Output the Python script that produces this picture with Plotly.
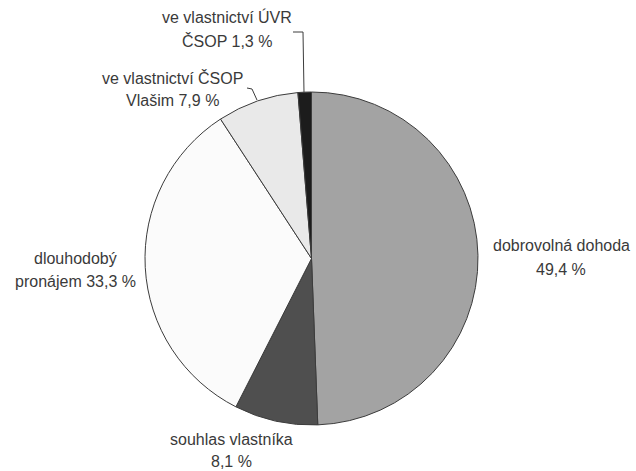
import plotly.graph_objects as go

W, H = 636, 471

# ---- data ----
categories = ["dobrovolná dohoda", "souhlas vlastníka", "dlouhodobý pronájem",
              "ve vlastnictví ČSOP Vlašim", "ve vlastnictví ÚVR ČSOP"]
values = [49.4, 8.1, 33.3, 7.9, 1.3]
label_lines = [
    ["dobrovolná dohoda", "49,4 %"],
    ["souhlas vlastníka", "8,1 %"],
    ["dlouhodobý", "pronájem 33,3 %"],
    ["ve vlastnictví ČSOP", "Vlašim 7,9 %"],
    ["ve vlastnictví ÚVR", "ČSOP 1,3 %"],
]

# ---- styles / layout positions (pixels) ----
colors = ["#a3a3a3", "#4f4f4f", "#fbfbfb", "#e9e9e9", "#1c1c1c"]
label_pos = [  # (x, y of first line, line gap)
    (561, 245, 24),
    (232, 439, 22),
    (75, 258, 23),
    (172, 78, 23),
    (227, 17, 24),
]
pie_box = (145, 92, 478, 425)  # left, top, right, bottom in px


def px(x):
    return x / W


def py(y):
    return 1 - y / H


fig = go.Figure(go.Pie(
    labels=categories,
    values=values,
    sort=False,
    direction="clockwise",
    rotation=0,
    marker=dict(colors=colors, line=dict(color="#3c3c3c", width=1)),
    textinfo="none",
    hoverinfo="label+percent",
    domain=dict(x=[px(pie_box[0]), px(pie_box[2])],
                y=[py(pie_box[3]), py(pie_box[1])]),
))

annotations = []
for lines, (x, y, gap) in zip(label_lines, label_pos):
    for i, t in enumerate(lines):
        annotations.append(dict(
            x=px(x), y=py(y + i * gap), xref="paper", yref="paper",
            text=t, showarrow=False, xanchor="center", yanchor="middle",
            font=dict(family="Liberation Sans, Arial, sans-serif", size=16, color="#3a3a3a"),
        ))

shapes = [
    # leader for ČSOP Vlašim
    dict(type="path", xref="paper", yref="paper",
         path=f"M {px(247)} {py(88)} L {px(252)} {py(89)} L {px(257)} {py(100)}",
         line=dict(color="#3c3c3c", width=1)),
    # leader for ÚVR
    dict(type="path", xref="paper", yref="paper",
         path=f"M {px(293)} {py(32)} L {px(303)} {py(32)} L {px(304)} {py(93)}",
         line=dict(color="#3c3c3c", width=1)),
]

fig.update_layout(
    width=W, height=H,
    margin=dict(l=0, r=0, t=0, b=0),
    paper_bgcolor="white", plot_bgcolor="white",
    showlegend=False,
    annotations=annotations,
    shapes=shapes,
)

fig.write_html("out.html", config={"displayModeBar": False},
               post_script="document.body.style.margin='0';document.body.style.overflow='hidden';")
